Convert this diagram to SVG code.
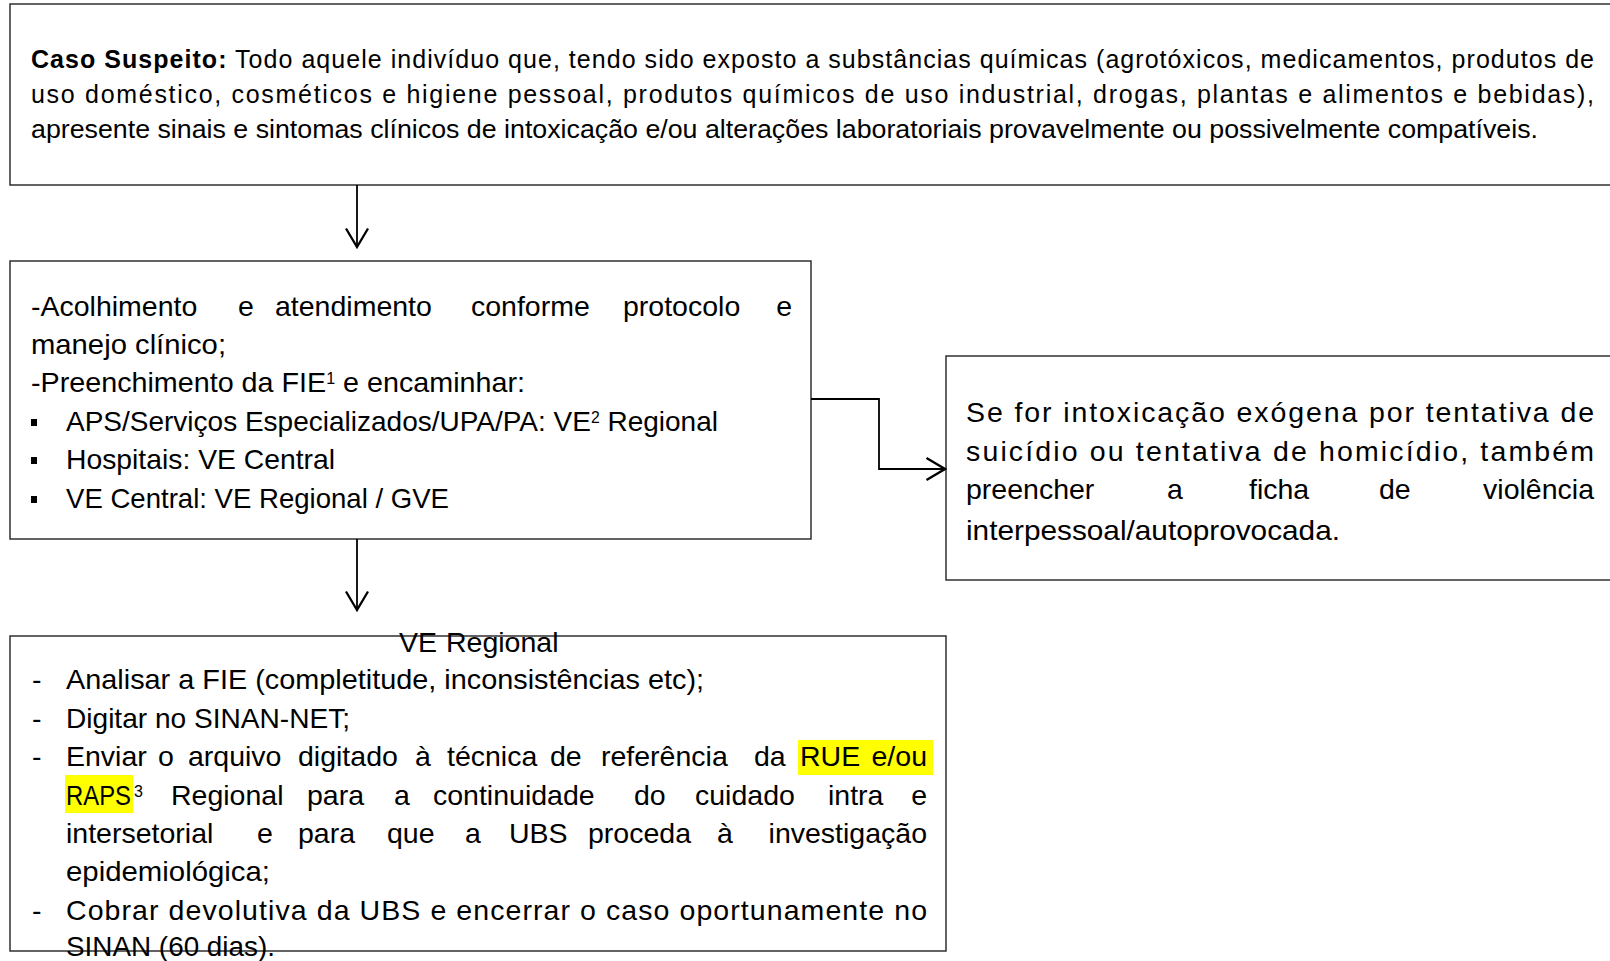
<svg xmlns="http://www.w3.org/2000/svg" width="1610" height="961" viewBox="0 0 1610 961">
<defs>
<style>
.box{fill:#fff;stroke:#222;stroke-width:1.4}
.t{font-family:"Liberation Sans",Arial,sans-serif;fill:#000}
.s{font-size:25px}
.m{font-size:28.5px}
.c{fill:none;stroke:#000;stroke-width:1.8}
.hl{fill:#ffff00}
</style>
<marker id="ah" markerUnits="userSpaceOnUse" viewBox="0 0 22 26" refX="20" refY="13" markerWidth="22" markerHeight="26" orient="auto">
<path d="M1.5,2 L20,13 L1.5,24" fill="none" stroke="#000" stroke-width="2.3"/>
</marker>
</defs>
<rect width="1610" height="961" fill="#fff"/>

<g id="node-caso-suspeito">
<rect class="box" x="10" y="4" width="1610" height="181"/>
<text class="t s" x="31" y="68" textLength="1563" lengthAdjust="spacing"><tspan font-weight="bold">Caso Suspeito:</tspan> Todo aquele indivíduo que, tendo sido exposto a substâncias químicas (agrotóxicos, medicamentos, produtos de</text>
<text class="t s" x="31" y="103" textLength="1563" lengthAdjust="spacing">uso doméstico, cosméticos e higiene pessoal, produtos químicos de uso industrial, drogas, plantas e alimentos e bebidas),</text>
<text class="t s" x="31" y="138" textLength="1507" lengthAdjust="spacingAndGlyphs">apresente sinais e sintomas clínicos de intoxicação e/ou alterações laboratoriais provavelmente ou possivelmente compatíveis.</text>
</g>

<g id="node-acolhimento">
<rect class="box" x="10" y="261" width="801" height="278"/>
<text class="t m" y="316"><tspan x="31">-Acolhimento</tspan><tspan x="238">e</tspan><tspan x="275">atendimento</tspan><tspan x="471">conforme</tspan><tspan x="623">protocolo</tspan><tspan x="792" text-anchor="end">e</tspan></text>
<text class="t m" x="31" y="354" textLength="195" lengthAdjust="spacingAndGlyphs">manejo clínico;</text>
<text class="t m" x="31" y="392" textLength="494" lengthAdjust="spacingAndGlyphs">-Preenchimento da FIE<tspan font-size="16" dy="-8">1</tspan><tspan dy="8"> e encaminhar:</tspan></text>
<rect x="31" y="419" width="6" height="7" fill="#000"/>
<text class="t m" x="66" y="431" textLength="652" lengthAdjust="spacingAndGlyphs">APS/Serviços Especializados/UPA/PA: VE<tspan font-size="16" dy="-8">2</tspan><tspan dy="8"> Regional</tspan></text>
<rect x="31" y="457" width="6" height="7" fill="#000"/>
<text class="t m" x="66" y="469" textLength="269" lengthAdjust="spacingAndGlyphs">Hospitais: VE Central</text>
<rect x="31" y="496" width="6" height="7" fill="#000"/>
<text class="t m" x="66" y="508" textLength="383" lengthAdjust="spacingAndGlyphs">VE Central: VE Regional / GVE</text>
</g>

<g id="node-violencia">
<rect class="box" x="946" y="356" width="680" height="224"/>
<text class="t m" x="966" y="422" textLength="628" lengthAdjust="spacing">Se for intoxicação exógena por tentativa de</text>
<text class="t m" x="966" y="461" textLength="628" lengthAdjust="spacing">suicídio ou tentativa de homicídio, também</text>
<text class="t m" y="499"><tspan x="966">preencher</tspan><tspan x="1167">a</tspan><tspan x="1249">ficha</tspan><tspan x="1379">de</tspan><tspan x="1594" text-anchor="end">violência</tspan></text>
<text class="t m" x="966" y="540" textLength="374" lengthAdjust="spacingAndGlyphs">interpessoal/autoprovocada.</text>
</g>

<g id="node-ve-regional">
<rect class="box" x="10" y="636" width="936" height="315"/>
<rect class="hl" x="798" y="740" width="135" height="35"/>
<rect class="hl" x="65" y="775" width="68" height="38"/>
<text class="t m" y="652"><tspan x="399">VE</tspan><tspan x="446">Regional</tspan></text>
<text class="t m" x="32" y="689">-</text>
<text class="t m" x="66" y="689" textLength="638" lengthAdjust="spacingAndGlyphs">Analisar a FIE (completitude, inconsistências etc);</text>
<text class="t m" x="32" y="728">-</text>
<text class="t m" x="66" y="728" textLength="284" lengthAdjust="spacingAndGlyphs">Digitar no SINAN-NET;</text>
<text class="t m" x="32" y="766">-</text>
<text class="t m" y="766"><tspan x="66">Enviar</tspan><tspan x="158">o</tspan><tspan x="188">arquivo</tspan><tspan x="298">digitado</tspan><tspan x="415">à</tspan><tspan x="447">técnica</tspan><tspan x="550">de</tspan><tspan x="601">referência</tspan><tspan x="754">da</tspan><tspan x="800">RUE</tspan><tspan x="927" text-anchor="end">e/ou</tspan></text>
<text class="t m" x="66" y="805" textLength="65" lengthAdjust="spacingAndGlyphs">RAPS</text>
<text class="t" x="134" y="797" font-size="16">3</text>
<text class="t m" y="805"><tspan x="171">Regional</tspan><tspan x="307">para</tspan><tspan x="394">a</tspan><tspan x="433">continuidade</tspan><tspan x="634">do</tspan><tspan x="695">cuidado</tspan><tspan x="828">intra</tspan><tspan x="927" text-anchor="end">e</tspan></text>
<text class="t m" y="843"><tspan x="66">intersetorial</tspan><tspan x="257">e</tspan><tspan x="298">para</tspan><tspan x="387">que</tspan><tspan x="465">a</tspan><tspan x="509">UBS</tspan><tspan x="588">proceda</tspan><tspan x="717">à</tspan><tspan x="927" text-anchor="end">investigação</tspan></text>
<text class="t m" x="66" y="881" textLength="204" lengthAdjust="spacingAndGlyphs">epidemiológica;</text>
<text class="t m" x="32" y="920">-</text>
<text class="t m" x="66" y="920" textLength="861" lengthAdjust="spacing">Cobrar devolutiva da UBS e encerrar o caso oportunamente no</text>
<text class="t m" x="66" y="956" textLength="209" lengthAdjust="spacingAndGlyphs">SINAN (60 dias).</text>
</g>

<g id="connectors">
<line class="c" x1="357" y1="185" x2="357" y2="247" marker-end="url(#ah)"/>
<line class="c" x1="357" y1="539" x2="357" y2="610" marker-end="url(#ah)"/>
<polyline class="c" points="811,399 879,399 879,469 945,469" marker-end="url(#ah)"/>
</g>
</svg>
